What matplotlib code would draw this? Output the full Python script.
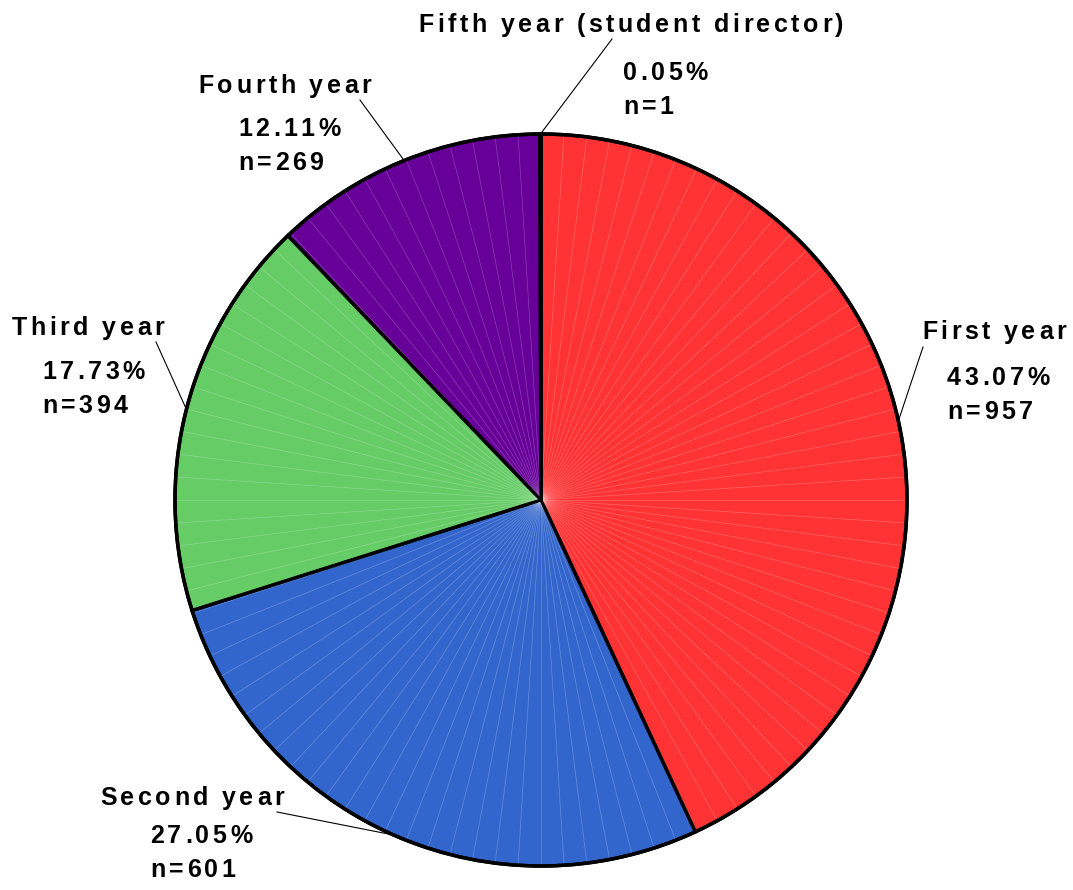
import numpy as np
from matplotlib import pyplot as plt
from matplotlib.font_manager import FontProperties

# data
labels = ['First year', 'Second year', 'Third year', 'Fourth year', 'Fifth year (student director)']
counts = [957, 601, 394, 269, 1]
percents = ['43.07%', '27.05%', '17.73%', '12.11%', '0.05%']
colors = ['#ff3333', '#3366cc', '#66cc66', '#660099', '#000000']

W, H = 1073, 890
cx, cy, R = 541, 500, 366

# label placement (pixel coords, top-left origin): name centre, number block left, leader text end
name_pos = [(994, 332), (192, 798), (88, 328), (285, 86), (631, 25)]
num_pos = [(947, 378), (150, 836), (42, 372), (238, 129), (623, 73)]
line_gap = 34
leader_end = [(923, 347), (277, 812), (156, 342), (360, 100), (612, 39)]

def py(y):
    return H - y

fig = plt.figure(figsize=(W / 100, H / 100), dpi=100)
ax = fig.add_axes([0, 0, 1, 1])
ax.set_xlim(0, W)
ax.set_ylim(0, H)

wedges, _ = ax.pie(counts, colors=colors, startangle=90, counterclock=False,
                   center=(cx, py(cy)), radius=R,
                   wedgeprops=dict(edgecolor='black', linewidth=2.5))

# faint radial facets like the original renderer
for a in np.arange(90, 90 - 360, -3.6):
    t = np.deg2rad(a)
    ax.plot([cx, cx + R * np.cos(t)], [py(cy), py(cy) + R * np.sin(t)],
            color='white', lw=0.5, alpha=0.25, zorder=2)
for w in wedges:
    w.set_zorder(1)
ax.add_patch(plt.Circle((cx, py(cy)), R, fill=False, ec='black', lw=2.5, zorder=3))
for w in wedges:
    for a in (w.theta1, w.theta2):
        t = np.deg2rad(a)
        ax.plot([cx, cx + R * np.cos(t)], [py(cy), py(cy) + R * np.sin(t)],
                color='black', lw=1.8, zorder=3)

fp = FontProperties(family=['Liberation Sans', 'DejaVu Sans'], weight='bold', size=18)
renderer = fig.canvas.get_renderer()
track = 3.5

def spaced_text(x, y, s, ha='left'):
    # draw text char by char with extra letter spacing
    widths = [renderer.get_text_width_height_descent(c, fp, ismath=False)[0] for c in s]
    total = sum(widths) + track * (len(s) - 1)
    x0 = x - total / 2 if ha == 'center' else x
    for c, wd in zip(s, widths):
        ax.text(x0, py(y), c, ha='left', va='center', fontproperties=fp)
        x0 += wd + track

for i, w in enumerate(wedges):
    mid = np.deg2rad((w.theta1 + w.theta2) / 2)
    ex, ey = cx + R * np.cos(mid), py(cy) + R * np.sin(mid)
    lx, ly = leader_end[i]
    ax.plot([ex, lx], [ey, py(ly)], color='black', lw=0.8, zorder=4)
    nx, ny = name_pos[i]
    spaced_text(nx, ny, labels[i], ha='center')
    bx, by = num_pos[i]
    spaced_text(bx, by, percents[i])
    spaced_text(bx, by + line_gap, 'n=' + str(counts[i]))

ax.set_xlim(0, W)
ax.set_ylim(0, H)
ax.set_aspect('equal')
ax.axis('off')
fig.savefig('out.png', dpi=100)
